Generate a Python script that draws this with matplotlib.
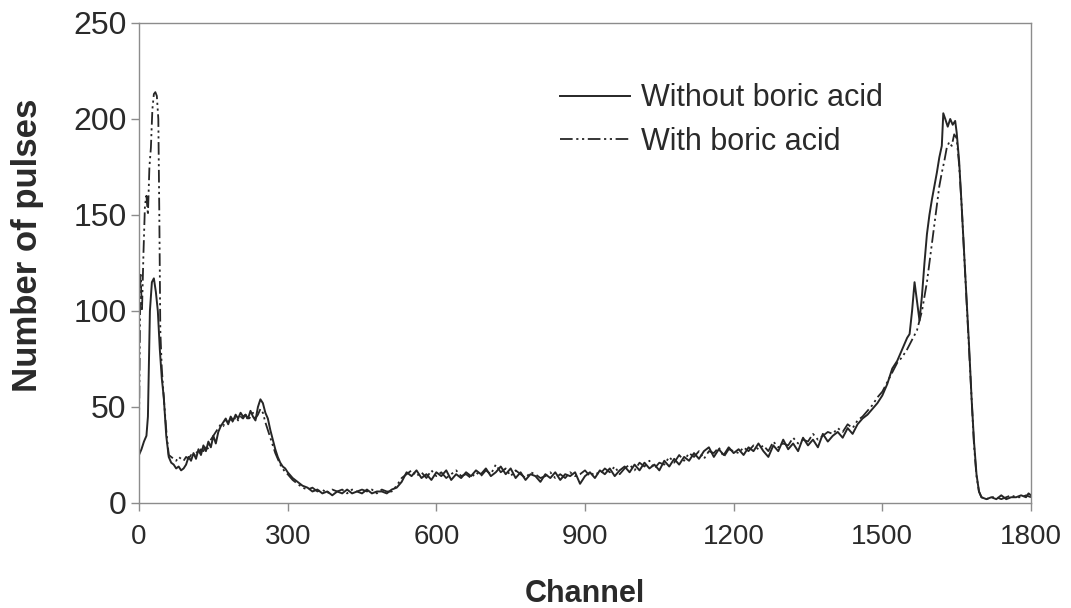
import matplotlib
matplotlib.use("Agg")
import matplotlib.pyplot as plt

plt.rcParams['font.family'] = ['Liberation Sans', 'DejaVu Sans']

# ---- data ----
ch_without = [0, 5, 10, 15, 18, 22, 26, 30, 34, 38, 42, 46, 50, 55, 60, 65, 70, 75, 80, 85,
              90, 95, 100, 105, 110, 115, 120, 125, 130, 135, 140, 145, 150, 155, 160, 165,
              170, 175, 180, 185, 190, 195, 200, 205, 210, 215, 220, 225, 230, 235, 240, 245,
              250, 255, 260, 265, 270, 275, 280, 285, 290, 295,
              300, 310, 320, 330, 340, 350, 360, 370, 380, 390, 400, 410, 420, 430, 440, 450,
              460, 470, 480, 490, 500, 510, 520, 530, 540, 550, 560, 570, 580, 590, 600, 610,
              620, 630, 640, 650, 660, 670, 680, 690, 700, 710, 720, 730, 740, 750, 760, 770,
              780, 790, 800, 810, 820, 830, 840, 850, 860, 870, 880, 890, 900, 910, 920, 930,
              940, 950, 960, 970, 980, 990, 1000, 1010, 1020, 1030, 1040, 1050, 1060, 1070,
              1080, 1090, 1100, 1110, 1120, 1130, 1140, 1150, 1160, 1170, 1180, 1190, 1200,
              1210, 1220, 1230, 1240, 1250, 1260, 1270, 1280, 1290, 1300, 1310, 1320, 1330,
              1340, 1350, 1360, 1370, 1380, 1390, 1400, 1410, 1420, 1430, 1440, 1450, 1460,
              1470, 1480, 1490, 1500, 1510, 1520, 1530, 1540, 1550, 1555, 1560, 1565, 1570,
              1575, 1580, 1585, 1590, 1595, 1600, 1605, 1610, 1615, 1620, 1623, 1627, 1632,
              1637, 1642, 1647, 1650, 1655, 1660, 1665, 1670, 1675, 1680, 1685, 1690, 1695,
              1700, 1710, 1720, 1730, 1740, 1750, 1760, 1770, 1780, 1790, 1795, 1800]
pulses_without = [25, 28, 32, 35, 45, 100, 115, 117, 110, 100, 80, 65, 55, 35, 24, 21, 20, 18, 19, 17,
                  18, 20, 24, 22, 26, 23, 28, 25, 30, 27, 32, 29, 35, 31, 37, 40,
                  42, 44, 41, 45, 43, 46, 44, 47, 45, 46, 44, 48, 45, 43, 50, 54,
                  52, 47, 44, 38, 33, 28, 24, 21, 19, 18,
                  16, 13, 11, 9, 8, 6, 7, 5, 6, 4, 6, 5, 7, 5, 6, 5,
                  7, 5, 6, 6, 5, 7, 8, 11, 16, 14, 17, 13, 15, 12, 16, 14,
                  17, 12, 15, 13, 16, 14, 17, 15, 18, 14, 16, 19, 15, 18, 13, 16,
                  12, 15, 14, 11, 15, 13, 16, 12, 15, 14, 16, 10, 14, 16, 13, 17,
                  15, 18, 14, 17, 19, 16, 20, 17, 21, 18, 20, 17, 22, 19,
                  23, 20, 24, 22, 26, 23, 27, 29, 24, 28, 25, 29, 26,
                  28, 25, 29, 27, 31, 27, 24, 30, 27, 33, 28, 31, 27,
                  34, 30, 33, 29, 36, 32, 35, 37, 34, 39, 36, 41, 44,
                  46, 49, 52, 56, 62, 70, 74, 80, 86, 88, 100, 115, 105,
                  95, 108, 125, 140, 150, 158, 165, 172, 180, 186, 203, 200, 196,
                  200, 197, 199, 193, 178, 155, 130, 106, 82, 55, 32, 15, 6,
                  3, 2, 3, 2, 4, 2, 3, 3, 4, 3, 5, 4]

ch_with = [0, 3, 6, 9, 12, 15, 18, 21, 24, 27, 30, 33, 36, 39, 41, 43, 46, 50, 55, 60, 65,
           70, 75, 80, 85, 90, 95, 100, 105, 110, 115, 120, 125, 130, 135, 140, 145, 150,
           155, 160, 165, 170, 175, 180, 185, 190, 195, 200, 205, 210, 215, 220, 225, 230,
           235, 240, 245, 250, 255, 260, 265, 270, 275, 280, 285, 290, 295,
           300, 310, 320, 330, 340, 350, 360, 370, 380, 390, 400, 410, 420, 430, 440, 450,
           460, 470, 480, 490, 500, 510, 520, 530, 540, 550, 560, 570, 580, 590, 600, 610,
           620, 630, 640, 650, 660, 670, 680, 690, 700, 710, 720, 730, 740, 750, 760, 770,
           780, 790, 800, 810, 820, 830, 840, 850, 860, 870, 880, 890, 900, 910, 920, 930,
           940, 950, 960, 970, 980, 990, 1000, 1010, 1020, 1030, 1040, 1050, 1060, 1070,
           1080, 1090, 1100, 1110, 1120, 1130, 1140, 1150, 1160, 1170, 1180, 1190, 1200,
           1210, 1220, 1230, 1240, 1250, 1260, 1270, 1280, 1290, 1300, 1310, 1320, 1330,
           1340, 1350, 1360, 1370, 1380, 1390, 1400, 1410, 1420, 1430, 1440, 1450, 1460,
           1470, 1480, 1490, 1500, 1510, 1520, 1530, 1540, 1550, 1560, 1570, 1580, 1590,
           1600, 1605, 1610, 1615, 1620, 1625, 1630, 1635, 1640, 1645, 1650, 1655, 1660,
           1665, 1670, 1675, 1680, 1685, 1690, 1695, 1700, 1710, 1720, 1730, 1740, 1750,
           1760, 1770, 1780, 1790, 1800]
pulses_with = [40, 120, 100, 130, 155, 160, 150, 175, 185, 205, 213, 214, 212, 200, 150, 90, 70, 55, 38, 25, 24,
               23, 22, 24, 23, 22, 24, 23, 25, 24, 27, 25, 28, 27, 30, 28, 33, 35,
               37, 39, 41, 40, 43, 42, 44, 42, 45, 43, 45, 44, 46, 43, 45, 47,
               44, 46, 49, 47, 42, 38, 34, 30, 26, 23, 20, 18, 16,
               15, 12, 10, 8, 7, 8, 6, 7, 5, 7, 6, 7, 5, 7, 6, 7,
               6, 7, 5, 7, 6, 6, 9, 13, 15, 17, 14, 16, 13, 17, 14, 16,
               13, 15, 17, 14, 15, 13, 16, 14, 17, 15, 20, 16, 18, 14, 17, 15,
               13, 16, 15, 13, 14, 16, 13, 15, 13, 16, 14, 15, 17, 14, 16, 15,
               18, 16, 19, 15, 18, 20, 17, 21, 19, 22, 18, 21, 20, 24,
               21, 25, 22, 26, 24, 27, 23, 27, 26, 29, 24, 28, 27,
               26, 29, 27, 30, 28, 30, 27, 32, 29, 31, 30, 34, 31,
               33, 32, 36, 33, 35, 37, 36, 39, 37, 41, 39, 43, 45,
               48, 51, 55, 58, 63, 68, 73, 76, 80, 85, 90, 100, 115,
               135, 145, 155, 165, 172, 178, 185, 188, 186, 192, 190, 176, 155,
               130, 104, 80, 54, 30, 14, 6, 3, 2, 3, 3, 2, 3,
               4, 3, 3, 4, 3]

x_ticks = [0, 300, 600, 900, 1200, 1500, 1800]
y_ticks = [0, 50, 100, 150, 200, 250]

fig = plt.figure(figsize=(10.71, 6.08), dpi=100)
ax = fig.add_axes([139/1071, 1 - 503/608, (1031-139)/1071, (503-23)/608])

line_color = '#262626'
ax.plot(ch_without, pulses_without, color=line_color, lw=1.4, label='Without boric acid')
ax.plot(ch_with, pulses_with, color=line_color, lw=1.3,
        linestyle=(0, (7, 2, 1.2, 2, 1.2, 2)), label='With boric acid')

ax.set_xlim(0, 1800)
ax.set_ylim(0, 250)
ax.set_xticks(x_ticks)
ax.set_yticks(y_ticks)

spine_color = '#8c8c8c'
for s in ax.spines.values():
    s.set_color(spine_color)
    s.set_linewidth(1.0)
ax.tick_params(axis='both', direction='out', length=6, width=1.0, color=spine_color,
               labelcolor='#2a2a2a')
ax.tick_params(axis='y', labelsize=23, pad=3)
ax.tick_params(axis='x', labelsize=20, pad=9)

ax.set_xlabel('Channel', fontsize=22, fontweight='bold', color='#2a2a2a', labelpad=21)
ax.set_ylabel('Number of pulses', fontsize=25, fontweight='bold', color='#2a2a2a')
ax.yaxis.set_label_coords(-0.107, 0.5375)

leg = ax.legend(loc='upper left', bbox_to_anchor=(0.4585, 0.9), frameon=False,
                fontsize=22, handlelength=2.3, handletextpad=0.33, labelspacing=0.45,
                borderaxespad=0)
for t in leg.get_texts():
    t.set_color('#2a2a2a')

fig.savefig('out.png', dpi=100, facecolor='white')
